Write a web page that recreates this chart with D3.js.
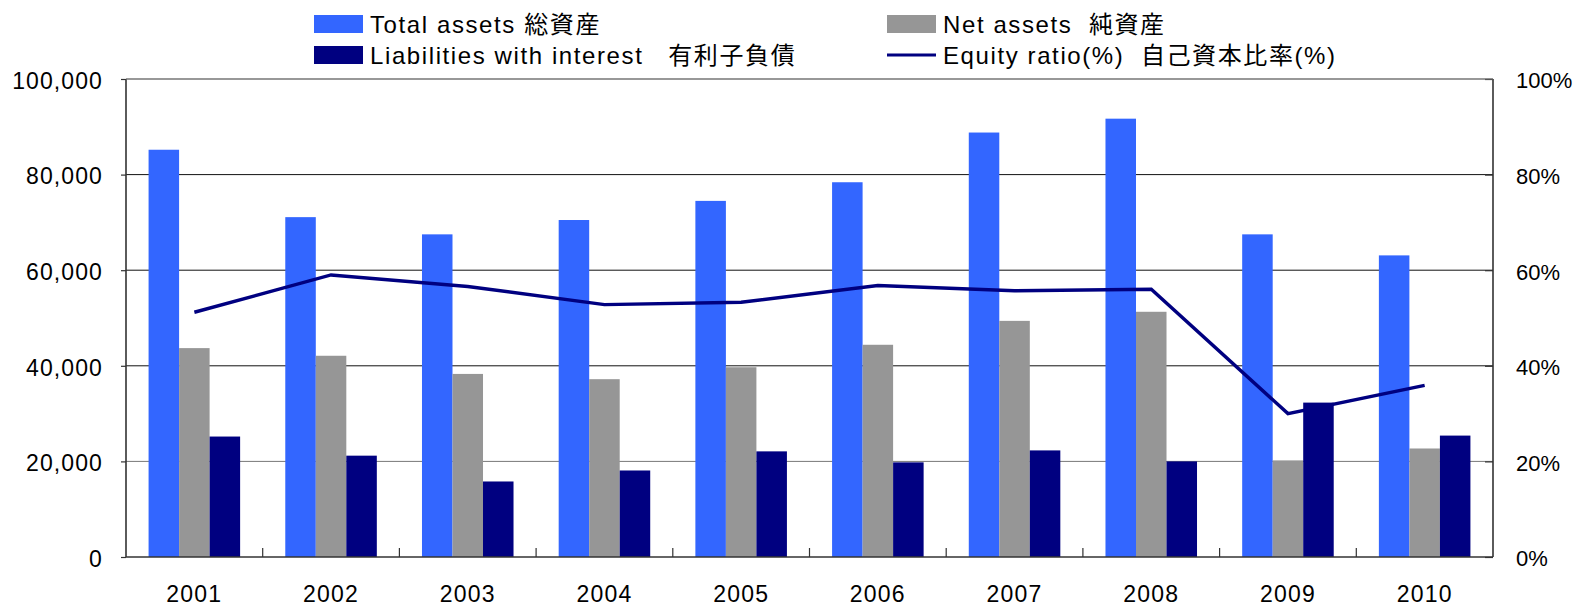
<html>
<head>
  <meta charset="utf-8">
  <script src="https://d3js.org/d3.v7.min.js"></script>
  <style>
    body { margin: 0; background: #fff; }
    text { font-family: "Liberation Sans", Arial, "Noto Sans CJK JP", sans-serif; fill: #000; }
  </style>
</head>
<body>
  <div id="chart"></div>
  <script>

    // Data
    var years = ["2001", "2002", "2003", "2004", "2005", "2006", "2007", "2008", "2009", "2010"];
    var totalAssets = [85200, 71100, 67500, 70500, 74500, 78400, 88800, 91700, 67500, 63100];
    var netAssets = [43700, 42100, 38300, 37200, 39700, 44400, 49400, 51300, 20200, 22700];
    var liabilities = [25200, 21200, 15800, 18100, 22100, 19800, 22300, 20000, 32300, 25400];
    var equityRatio = [51.2, 59.0, 56.6, 52.8, 53.3, 56.8, 55.7, 56.0, 30.0, 35.9];
    var leftTicks = [0, 20000, 40000, 60000, 80000, 100000];
    var rightTicks = [0, 20, 40, 60, 80, 100];

    var seriesNames = ["total", "net", "liab"];
    var seriesColors = {total: "#3366ff", net: "#969696", liab: "#000080"};
    var lineColor = "#000080";

    var W = 1576, H = 608;
    var margin = {top: 79, right: 83, bottom: 51, left: 126};
    var width = W - margin.left - margin.right;
    var height = H - margin.top - margin.bottom;

    var rows = years.map((y, i) => ({year: y, total: totalAssets[i], net: netAssets[i], liab: liabilities[i], ratio: equityRatio[i]}));

    var x0 = d3.scaleBand().domain(years).range([0, width]).padding(0);
    var x1 = d3.scaleBand().domain(seriesNames).range([0, x0.bandwidth()]).paddingInner(0).paddingOuter(0.74);
    var yL = d3.scaleLinear().domain([0, 100000]).range([height, 0]);
    var yR = d3.scaleLinear().domain([0, 100]).range([height, 0]);

    var svg = d3.select("#chart").append("svg")
        .attr("width", W)
        .attr("height", H);
    var g = svg.append("g")
        .attr("transform", `translate(${margin.left},${margin.top})`);

    // grid lines
    g.append("g")
      .selectAll("line")
      .data(leftTicks.filter(d => d > 0))
      .join("line")
        .attr("x1", 0).attr("x2", width)
        .attr("y1", d => yL(d)).attr("y2", d => yL(d))
        .attr("stroke", (d, i) => (d === 20000 || d === 100000) ? "#777" : "#111")
        .attr("stroke-width", 1);

    // bars
    g.append("g")
      .selectAll("g")
      .data(rows)
      .join("g")
        .attr("transform", d => `translate(${x0(d.year)},0)`)
      .selectAll("rect")
      .data(d => seriesNames.map(k => ({key: k, value: d[k]})))
      .join("rect")
        .attr("x", d => x1(d.key))
        .attr("y", d => yL(d.value))
        .attr("width", x1.bandwidth())
        .attr("height", d => height - yL(d.value))
        .attr("fill", d => seriesColors[d.key]);

    // axes
    var axisColor = "#333";
    var leftAxis = g.append("g")
        .call(d3.axisLeft(yL).tickValues(leftTicks).tickSize(5).tickPadding(18).tickFormat(d3.format(",")));
    var rightAxis = g.append("g")
        .attr("transform", `translate(${width},0)`)
        .call(d3.axisRight(yR).tickValues(rightTicks).tickSize(-8).tickPadding(23).tickFormat(d => d + "%"));
    var bottomAxis = g.append("g")
        .attr("transform", `translate(0,${height})`)
        .call(d3.axisBottom(x0).tickSize(0).tickPadding(30));

    // category separator ticks (pointing up)
    g.append("g")
      .selectAll("line")
      .data(years.slice(1))
      .join("line")
        .attr("x1", d => x0(d)).attr("x2", d => x0(d))
        .attr("y1", height).attr("y2", height - 9)
        .attr("stroke", axisColor).attr("stroke-width", 1.2);

    [leftAxis, rightAxis, bottomAxis].forEach(a => {
      a.select(".domain").attr("stroke", axisColor).attr("stroke-width", 1.6);
      a.selectAll(".tick line").attr("stroke", axisColor).attr("stroke-width", 1.2);
      a.selectAll("text").style("font-size", "23px").attr("fill", "#000")
        .style("font-family", "Liberation Sans, Arial, sans-serif");
    });
    leftAxis.selectAll("text").attr("dy", "0.4em").style("letter-spacing", "1.1px");
    rightAxis.selectAll("text").attr("dy", "0.4em").style("font-size", "22px");
    bottomAxis.selectAll("text").attr("dy", "0.65em").style("letter-spacing", "1.2px");
    bottomAxis.select(".domain").attr("d", `M0,0H${width}`);
    leftAxis.select(".domain").attr("d", `M0,${height}V0`);
    rightAxis.select(".domain").attr("d", `M0,${height}V0`);

    // top border
    g.append("line")
      .attr("x1", 0).attr("x2", width).attr("y1", 0).attr("y2", 0)
      .attr("stroke", "#777").attr("stroke-width", 1.2);

    // equity ratio line
    var line = d3.line()
      .x(d => x0(d.year) + x0.bandwidth() / 2)
      .y(d => yR(d.ratio));
    g.append("path")
      .datum(rows)
      .attr("d", line)
      .attr("fill", "none")
      .attr("stroke", lineColor)
      .attr("stroke-width", 3.4);

    // legend
    var legend = [
      {label: "Total assets 総資産", type: "rect", color: seriesColors.total, x: 314, y: 15},
      {label: "Net assets\u00a0\u00a0純資産", type: "rect", color: seriesColors.net, x: 887, y: 15},
      {label: "Liabilities with interest\u00a0\u00a0\u00a0有利子負債", type: "rect", color: seriesColors.liab, x: 314, y: 46},
      {label: "Equity ratio(%)\u00a0\u00a0自己資本比率(%)", type: "line", color: lineColor, x: 887, y: 46}
    ];
    var lg = svg.append("g")
      .selectAll("g")
      .data(legend)
      .join("g")
        .attr("transform", d => `translate(${d.x},${d.y})`);
    lg.filter(d => d.type === "rect").append("rect")
        .attr("width", 49).attr("height", 18)
        .attr("fill", d => d.color);
    lg.filter(d => d.type === "line").append("line")
        .attr("x1", 0).attr("x2", 49).attr("y1", 9).attr("y2", 9)
        .attr("stroke", d => d.color).attr("stroke-width", 3);
    lg.append("text")
        .attr("x", 56).attr("y", 18)
        .style("font-size", "24px")
        .style("letter-spacing", "1.6px")
        .text(d => d.label);

  </script>
</body>
</html>
